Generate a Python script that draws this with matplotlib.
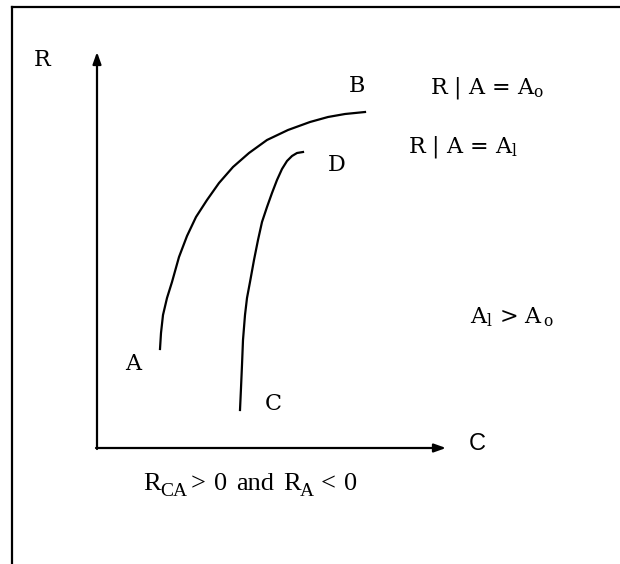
import matplotlib.pyplot as plt

plt.rcParams['font.family'] = ['DejaVu Serif']
plt.rcParams['mathtext.fontset'] = 'dejavuserif'

# Curve points (pixel coordinates, y grows downward)
ab_x = [160, 161, 163, 167, 172, 179, 187, 196, 207, 219, 233, 249, 267, 288, 310, 328, 345, 365]
ab_y = [349, 333, 315, 298, 282, 257, 236, 217, 200, 183, 167, 153, 140, 130, 122, 117, 114, 112]
cd_x = [240, 241, 242, 243, 245, 247, 250, 254, 258, 262, 267, 272, 277, 282, 287, 292, 297, 303]
cd_y = [410, 388, 365, 340, 315, 298, 282, 260, 240, 222, 207, 193, 180, 169, 161, 156, 153, 152]

# Point labels
labels = ["R", "B", "D", "A", "C"]
label_x = [42, 357, 337, 133, 273]
label_y = [60, 86, 165, 364, 404]

# bottom caption, split into pieces (text, x, is subscript)
cap_txt = ["R", "CA", ">", "0", "and", "R", "A", "<", "0"]
cap_x = [143, 160, 191, 214, 236, 283, 300, 321, 344]
cap_sub = [False, True, False, False, False, False, True, False, False]

fig = plt.figure(figsize=(6.2, 5.64), dpi=100)
ax = fig.add_axes([0, 0, 1, 1])
ax.set_xlim(0, 620)
ax.set_ylim(564, 0)
ax.axis("off")

# page border, only top and left edges show
ax.plot([12, 620], [7, 7], color="black", lw=1.6)
ax.plot([12, 12], [7, 564], color="black", lw=1.6)

# axes arrows
arrow = dict(arrowstyle="-|>,head_length=0.7,head_width=0.25",
             color="black", lw=1.6, shrinkA=0, shrinkB=0)
ax.annotate("", xy=(97, 52), xytext=(97, 449), arrowprops=arrow)
ax.annotate("", xy=(446, 448), xytext=(96, 448), arrowprops=arrow)

# curves
ax.plot(ab_x, ab_y, color="black", lw=1.6)
ax.plot(cd_x, cd_y, color="black", lw=1.6)

for t, x, y in zip(labels, label_x, label_y):
    ax.text(x, y, t, fontsize=16, ha="center", va="center")

ax.text(477, 444, "C", fontsize=17, ha="center", va="center", family="Liberation Sans")
ax.text(430, 88, r"R | A = A$_{\mathrm{o}}$", fontsize=16, ha="left", va="center")
ax.text(408, 147, r"R | A = A$_{\mathrm{l}}$", fontsize=16, ha="left", va="center")
ax.text(470, 317, r"A$_{\mathrm{l}}$ > A$_{\,\mathrm{o}}$", fontsize=16, ha="left", va="center")

for t, x, s in zip(cap_txt, cap_x, cap_sub):
    if s:
        ax.text(x, 496, t, fontsize=14, ha="left", va="baseline", family="Liberation Serif")
    else:
        ax.text(x, 490, t, fontsize=19, ha="left", va="baseline", family="Liberation Serif")

fig.savefig("out.png", dpi=100)
